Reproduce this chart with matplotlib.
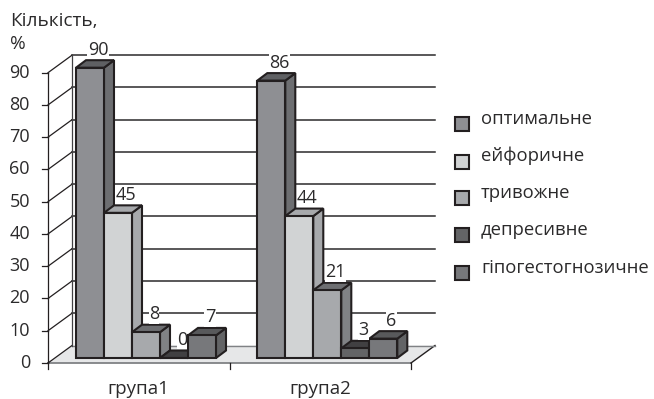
#!/usr/bin/python3
## file: plot.py
import matplotlib
matplotlib.use('Agg')
import matplotlib.pyplot as plt
from matplotlib.patches import Polygon, Rectangle

groups = ['група1', 'група2']
series = ['оптимальне', 'ейфоричне', 'тривожне', 'депресивне', 'гіпогестогнозичне']
values = [[90, 86], [45, 44], [8, 21], [0, 3], [7, 6]]
yticks = [0, 10, 20, 30, 40, 50, 60, 70, 80, 90]

## front, side, top colours of each series
front = ['#8e8f93', '#d1d3d4', '#a7a9ac', '#636466', '#77787b']
side = ['#6d6e71', '#a7a9ac', '#808285', '#58595b', '#636466']
top = ['#5f6063', '#a7a9ac', '#6d6e71', '#414042', '#58595b']
edge = '#231f20'
text_color = '#2b2a2b'

W, H = 654, 399
X0, X1 = 48, 411      # plot front edge, pixels
Y0, Y90 = 363, 72.7   # value 0 and value 90, pixels
PX = 2.0 / (X1 - X0)        # category units per pixel
PY = 90.0 / (Y0 - Y90)      # value units per pixel

fig = plt.figure(figsize=(W / 100, H / 100), dpi=100)
plt.rcParams['font.family'] = ['Open Sans', 'DejaVu Sans']
ax = fig.add_axes([X0 / W, 1 - Y0 / H, (X1 - X0) / W, (Y0 - Y90) / H])
ax.set_xlim(0, 2)
ax.set_ylim(0, 90)
ax.axis('off')

wall_dx, wall_dy = 24 * PX, 17.5 * PY
bar_w = 28 * PX
bar_dx, bar_dy = 10 * PX, 7.5 * PY
base = 5 * PY
starts = [28 * PX, 209.3 * PX]

## floor
ax.add_patch(Polygon([(0, 0), (2, 0), (2 + wall_dx, wall_dy), (wall_dx, wall_dy)],
                     closed=True, fc='#e6e7e8', ec='none', clip_on=False, zorder=1))
ax.plot([0, 2], [0, 0], color='#808285', lw=1.3, clip_on=False, zorder=1.5)
ax.plot([2, 2 + wall_dx], [0, wall_dy], color='#231f20', lw=1.0, clip_on=False, zorder=1.5)
ax.plot([wall_dx, 2 + wall_dx], [wall_dy, wall_dy], color='#808285', lw=1.0, clip_on=False, zorder=1.5)

## grid on the back wall and the slanted lines to the axis
for v in yticks:
    if v > 0:
        ax.plot([wall_dx, 2 + wall_dx], [v + wall_dy, v + wall_dy], color='#2b2a2b',
                lw=1.1, clip_on=False, zorder=2)
    ax.plot([0, wall_dx], [v, v + wall_dy], color='#231f20', lw=0.9, clip_on=False, zorder=2)
    ax.plot([-6 * PX, 0], [v, v], color='#231f20', lw=0.9, clip_on=False, zorder=2)
    ax.text(-18 * PX, v, str(v), ha='right', va='center', fontsize=13, color=text_color)
ax.plot([wall_dx, wall_dx], [wall_dy, 90 + wall_dy], color='#414042', lw=0.9, clip_on=False, zorder=2)
ax.plot([0, 0], [0, 90], color='#231f20', lw=0.9, clip_on=False, zorder=2)

for x in [0, 1, 2]:
    ax.plot([x, x], [0, -6 * PY], color='#231f20', lw=0.9, clip_on=False, zorder=2)
for i, g in enumerate(groups):
    ax.text(i + 0.5, -26 * PY, g, ha='center', va='center', fontsize=13.5, color=text_color)

## bars, drawn left to right so each one covers the side of the previous
for g in range(len(groups)):
    for s in range(len(series)):
        x = starts[g] + s * bar_w
        v = values[s][g]
        yb, yt = base, base + v
        z = 3 + s * 0.1
        style = dict(closed=True, ec=edge, lw=1.5, joinstyle='miter', clip_on=False, zorder=z)
        ax.add_patch(Polygon([(x + bar_w, yb), (x + bar_w + bar_dx, yb + bar_dy),
                              (x + bar_w + bar_dx, yt + bar_dy), (x + bar_w, yt)],
                             fc=side[s], **style))
        ax.add_patch(Polygon([(x, yt), (x + bar_dx, yt + bar_dy),
                              (x + bar_w + bar_dx, yt + bar_dy), (x + bar_w, yt)],
                             fc=top[s], **style))
        ax.add_patch(Polygon([(x, yb), (x + bar_w, yb), (x + bar_w, yt), (x, yt)],
                             fc=front[s], **style))
        ax.text(x + bar_w / 2 + 8 * PX, yt + bar_dy + 1.5 * PY, str(v), ha='center', va='bottom',
                fontsize=13, color=text_color, zorder=6,
                bbox=dict(fc='white', ec='none', pad=0.2))

## axis title
fig.text(10 / W, 1 - 21 / H, 'Кількість,', ha='left', va='center', fontsize=13.7, color=text_color)
fig.text(10 / W, 1 - 44 / H, '%', ha='left', va='center', fontsize=13.7, color=text_color)

## legend
marker_y = [124, 162, 198, 235, 273]
label_y = [119, 156, 193, 230, 268]
for s, name in enumerate(series):
    fig.add_artist(Rectangle((455 / W, 1 - (marker_y[s] + 7) / H), 14 / W, 14 / H,
                             transform=fig.transFigure, fc=front[s], ec=edge, lw=1.5))
    fig.text(481 / W, 1 - label_y[s] / H, name, ha='left', va='center', fontsize=13.3, color=text_color)

fig.savefig('out.png', dpi=100, facecolor='white')
